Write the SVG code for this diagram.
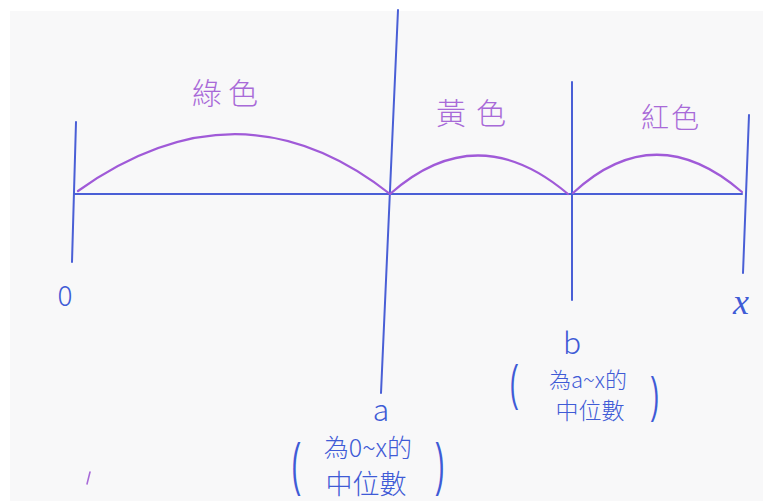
<svg xmlns="http://www.w3.org/2000/svg" width="763" height="501" viewBox="0 0 763 501">
<style>
.ln{stroke:#4a5fd6;stroke-width:2;fill:none;stroke-linecap:round}
.arc{stroke:#a05ad8;stroke-width:2.2;fill:none;stroke-linecap:round}
.pt{font-family:"Noto Sans CJK TC","Noto Sans CJK SC",sans-serif;fill:#a86ad8;font-weight:300}
.bt{font-family:"Noto Sans CJK TC","Noto Sans CJK SC",sans-serif;fill:#3f5bd6;font-weight:300}
.it{font-family:"Liberation Serif",serif;font-style:italic;fill:#3f5bd6}
.par{font-family:"Liberation Sans",sans-serif;fill:#3f5bd6;font-size:36px}
</style>
<rect width="763" height="501" fill="#ffffff"/>
<rect x="10" y="11" width="753" height="490" fill="#f8f8f9"/>
<g id="connectors">
<line class="ln" x1="74" y1="194" x2="742" y2="194"/>
<line class="ln" x1="76" y1="122" x2="72" y2="262"/>
<line class="ln" x1="398" y1="10" x2="381" y2="393"/>
<line class="ln" x1="572" y1="82" x2="572" y2="300"/>
<line class="ln" x1="749" y1="115" x2="743" y2="273"/>
<path class="arc" d="M78,191 Q240,76 390,194"/>
<path class="arc" d="M390,194 Q477,117 568,194"/>
<path class="arc" d="M573,193 Q655,117 742,192"/>
</g>
<g id="green-label"><text class="pt" x="228" y="104" font-size="30" text-anchor="middle" letter-spacing="6">綠色</text></g>
<g id="yellow-label"><text class="pt" x="476" y="124" font-size="30" text-anchor="middle" letter-spacing="10">黃色</text></g>
<g id="red-label"><text class="pt" x="671" y="128" font-size="28" text-anchor="middle" letter-spacing="2">紅色</text></g>
<g id="node-0"><text class="bt" x="65" y="306" font-size="28" text-anchor="middle">0</text></g>
<g id="node-x"><text class="it" x="741" y="314" font-size="36" text-anchor="middle">x</text></g>
<g id="node-b">
<text class="bt" x="572" y="354" font-size="30" text-anchor="middle">b</text>
<text class="par" text-anchor="middle" transform="translate(514,400) scale(0.7,1.4)">(</text>
<text class="bt" x="588" y="388" font-size="22" text-anchor="middle">為a~x的</text>
<text class="bt" x="590" y="419" font-size="23" text-anchor="middle">中位數</text>
<text class="par" text-anchor="middle" transform="translate(655,412) scale(0.7,1.4)">)</text>
</g>
<g id="node-a">
<text class="bt" x="381" y="421" font-size="30" text-anchor="middle">a</text>
<text class="par" text-anchor="middle" transform="translate(296,484) scale(0.75,1.6)">(</text>
<text class="bt" x="368" y="457" font-size="25" text-anchor="middle">為0~x的</text>
<text class="bt" x="366" y="494" font-size="27" text-anchor="middle">中位數</text>
<text class="par" text-anchor="middle" transform="translate(440,484) scale(0.75,1.6)">)</text>
</g>
<line x1="90" y1="472" x2="87" y2="484" stroke="#a86ad8" stroke-width="1.5" stroke-linecap="round"/>
</svg>
